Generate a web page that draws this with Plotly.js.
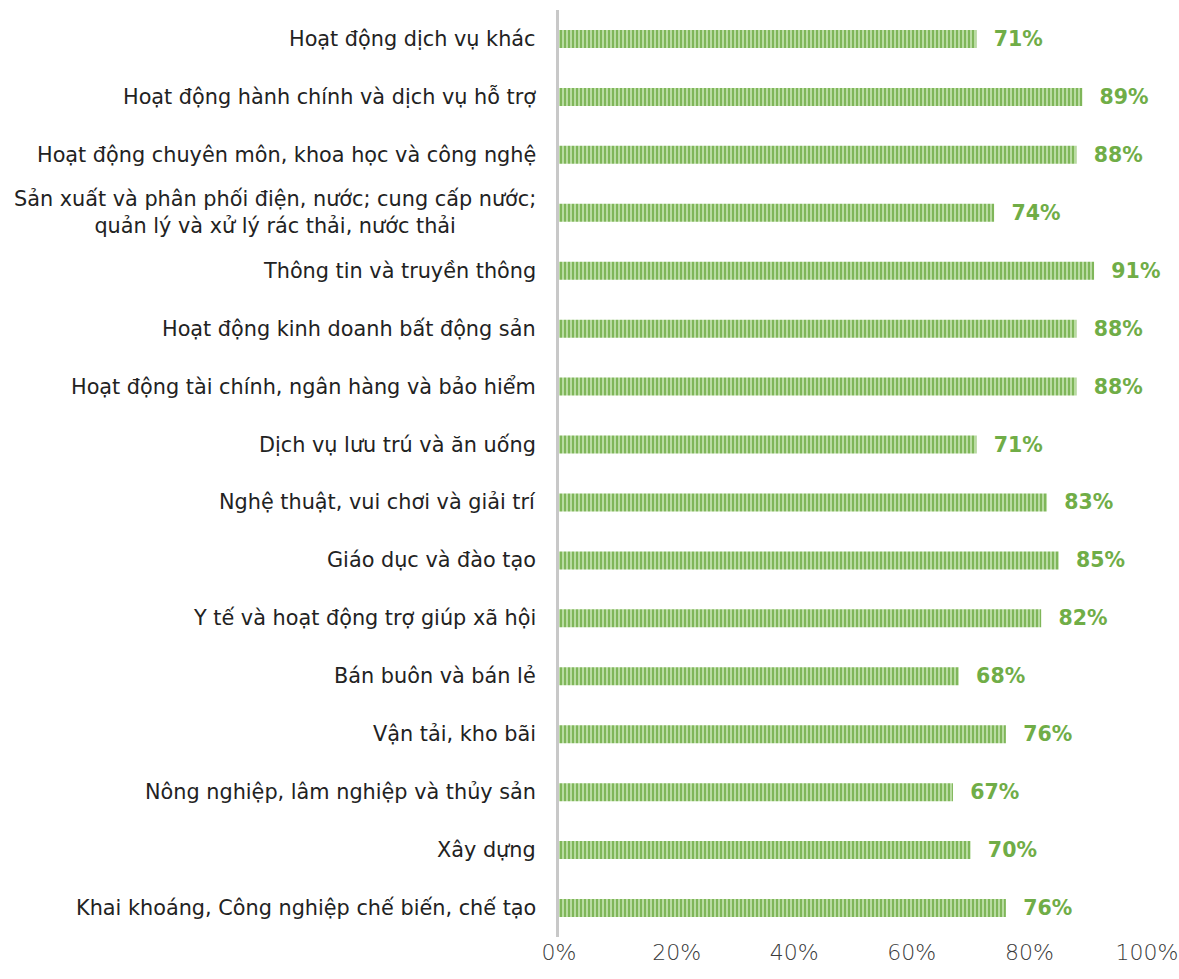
<!DOCTYPE html>
<html>
<head>
<meta charset="utf-8">
<script src="https://cdn.plot.ly/plotly-3.0.1.min.js"></script>
<style>html,body{margin:0;padding:0;background:#fff}#chart{width:1179px;height:979px}</style>
</head>
<body>
<div id="chart"></div>
<script>
const categories = [
  "Hoạt động dịch vụ khác",
  "Hoạt động hành chính và dịch vụ hỗ trợ",
  "Hoạt động chuyên môn, khoa học và công nghệ",
  "Sản xuất và phân phối điện, nước; cung cấp nước;<br>quản lý và xử lý rác thải, nước thải",
  "Thông tin và truyền thông",
  "Hoạt động kinh doanh bất động sản",
  "Hoạt động tài chính, ngân hàng và bảo hiểm",
  "Dịch vụ lưu trú và ăn uống",
  "Nghệ thuật, vui chơi và giải trí",
  "Giáo dục và đào tạo",
  "Y tế và hoạt động trợ giúp xã hội",
  "Bán buôn và bán lẻ",
  "Vận tải, kho bãi",
  "Nông nghiệp, lâm nghiệp và thủy sản",
  "Xây dựng",
  "Khai khoáng, Công nghiệp chế biến, chế tạo"
];
const values = [71, 89, 88, 74, 91, 88, 88, 71, 83, 85, 82, 68, 76, 67, 70, 76];
const tickVals = [0, 20, 40, 60, 80, 100];
const tickText = ["0%", "20%", "40%", "60%", "80%", "100%"];

const FONT = "DejaVu Sans, sans-serif";

const trace = {
  type: "bar",
  orientation: "h",
  y: categories,
  x: values,
  text: values.map(v => v + "%"),
  texttemplate: "  %{text}",
  textposition: "outside",
  constraintext: "none",
  cliponaxis: false,
  textfont: {family: FONT, size: 20.5, color: "#70AD47", weight: 700},
  marker: {
    color: "#a9d18e",
    pattern: {shape: "|", fgcolor: "#70AD47", bgcolor: "#b9dca2", size: 4, solidity: 0.4, fillmode: "replace"},
    line: {width: 0}
  },
  hoverinfo: "skip"
};

const annotations = categories.map(c => ({
  xref: "paper", yref: "y", x: 0, y: c,
  xanchor: "right", yanchor: "middle", xshift: -21,
  text: c, showarrow: false, align: "center",
  font: {family: FONT, size: 20.8, color: "#222222"}
}));

const layout = {
  width: 1179, height: 979,
  margin: {l: 559, r: 32, t: 10, b: 42},
  paper_bgcolor: "#ffffff", plot_bgcolor: "#ffffff",
  showlegend: false,
  bargap: 0.69,
  xaxis: {
    range: [0, 100], tickvals: tickVals, ticktext: tickText,
    showgrid: false, zeroline: false, showline: false,
    tickfont: {family: "DejaVu Sans ExtraLight, DejaVu Sans, sans-serif", size: 22, color: "#3a3a3a", weight: 300},
    ticks: "", ticklen: 0
  },
  yaxis: {
    type: "category", autorange: "reversed",
    showticklabels: false, showgrid: false, zeroline: false,
    showline: true, linecolor: "#c8c8c8", linewidth: 3, ticks: ""
  },
  annotations: annotations
};

Plotly.newPlot("chart", [trace], layout, {staticPlot: true, displayModeBar: false});
</script>
</body>
</html>
